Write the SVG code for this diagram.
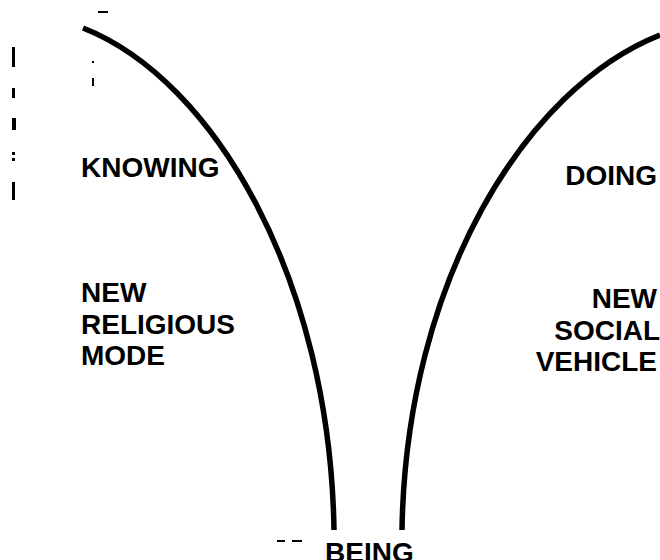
<svg xmlns="http://www.w3.org/2000/svg" width="660" height="560" viewBox="0 0 660 560">
  <style>
    .lbl { font-family: "Liberation Sans", Arial, sans-serif; font-weight: bold; font-size: 28px; fill: #000; }
    .curve { fill: none; stroke: #000; stroke-width: 5.5; stroke-linecap: butt; }
    .mark { fill: #000; }
  </style>
  <rect width="660" height="560" fill="#fff"/>
  <g id="connectors">
    <path class="curve" d="M83,28 C215,80 330,280 334,530"/>
    <path class="curve" d="M660,35 C526,88 406,280 402,530"/>
  </g>
  <g id="knowing">
    <text class="lbl" x="81" y="177">KNOWING</text>
  </g>
  <g id="doing">
    <text class="lbl" x="657" y="185" text-anchor="end">DOING</text>
  </g>
  <g id="new-religious-mode">
    <text class="lbl" x="81" y="302">NEW</text>
    <text class="lbl" x="81" y="334">RELIGIOUS</text>
    <text class="lbl" x="81" y="365">MODE</text>
  </g>
  <g id="new-social-vehicle">
    <text class="lbl" x="657" y="308" text-anchor="end">NEW</text>
    <text class="lbl" x="660" y="340" text-anchor="end">SOCIAL</text>
    <text class="lbl" x="657" y="371" text-anchor="end">VEHICLE</text>
  </g>
  <g id="being">
    <text class="lbl" x="325" y="562">BEING</text>
  </g>
  <g id="scan-marks">
    <rect class="mark" x="98" y="11" width="10" height="2"/>
    <rect class="mark" x="92" y="61" width="2" height="2"/>
    <rect class="mark" x="92" y="78" width="2" height="8"/>
    <rect class="mark" x="12" y="47" width="3" height="20"/>
    <rect class="mark" x="12" y="88" width="3" height="10"/>
    <rect class="mark" x="12" y="118" width="4" height="12"/>
    <rect class="mark" x="12" y="152" width="3" height="3"/>
    <rect class="mark" x="12" y="158" width="3" height="3"/>
    <rect class="mark" x="12" y="182" width="3" height="18"/>
    <rect class="mark" x="277" y="540" width="8" height="2"/>
    <rect class="mark" x="292" y="540" width="10" height="2"/>
  </g>
</svg>
